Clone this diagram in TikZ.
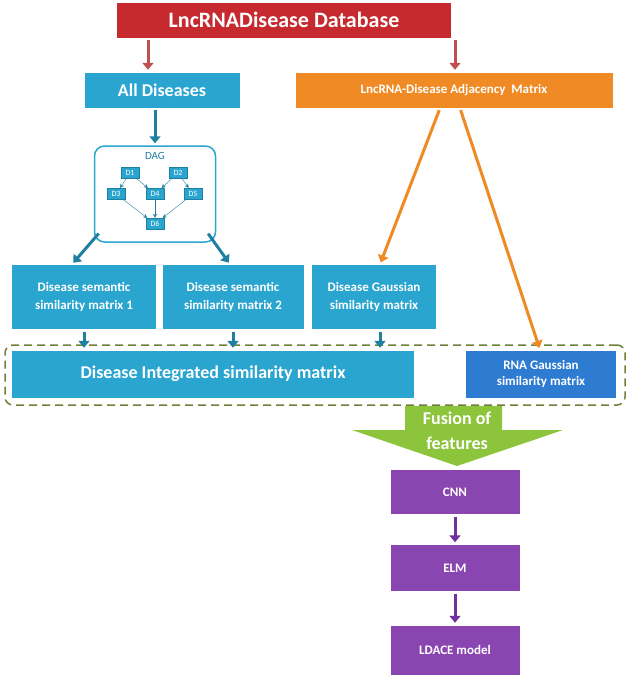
\documentclass[tikz,border=0pt]{standalone}
\usepackage{fontspec}
\setmainfont{Carlito}
\usetikzlibrary{arrows.meta,positioning}
\definecolor{titlered}{HTML}{C62A2F}
\definecolor{boxcyan}{HTML}{2AA5CF}
\definecolor{boxorange}{HTML}{F08A24}
\definecolor{boxblue}{HTML}{2E7BD2}
\definecolor{boxpurple}{HTML}{8A46B0}
\definecolor{fusegreen}{HTML}{8CC43C}
\definecolor{dashgreen}{HTML}{6E7F3A}
\definecolor{arrred}{HTML}{C0504D}
\definecolor{arrcyan}{HTML}{1E7FA0}
\definecolor{arrpurple}{HTML}{7030A0}
\begin{document}
\begin{tikzpicture}[x=1pt, y=-1pt, align=center, text=white, font=\fontsize{13}{16}\selectfont\bfseries]
    \tikzset{
        box/.style      =   { rectangle
                            , inner sep=2pt
                            , draw=white
                            , minimum height=36pt
        }
        , big/.style    =   { font=\fontsize{18}{21}\selectfont\bfseries
        }
        , dnode/.style  =   { rectangle
                            , fill=boxcyan
                            , draw=arrcyan
                            , font=\fontsize{8}{9}\selectfont
                            , inner sep=0pt
                            , minimum width=18pt
                            , minimum height=11pt
        }
        , arrow/.style  =   { line width=3pt
                            , -{Triangle[length=7pt,width=11pt]}
                            , shorten >= 2pt
                            , shorten <= 2pt
        }
        , dlink/.style  =   { draw=arrcyan
                            , -{Stealth[length=4pt,width=4pt]}
                            , shorten >= 0.5pt
        }
    }
    \useasboundingbox (0,0) rectangle (629,681);

    % top rows
    \node(db)[box, fill=titlered, minimum width=335pt, font=\fontsize{22}{24}\selectfont\bfseries] at (284,20) {LncRNADisease Database};
    \node(all)[box, fill=boxcyan, minimum width=156pt, big] at (162,90) {All Diseases};
    \node(adj)[box, fill=boxorange, minimum width=318pt] at (454,90) {LncRNA-Disease Adjacency~ Matrix};

    % DAG
    \node(dag)[draw=boxcyan, line width=1.5pt, rounded corners=10pt, minimum width=121pt, minimum height=96pt] at (155,194) {};
    \node[text=arrcyan, font=\fontsize{11}{12}\selectfont] at (155,156) {DAG};
    \node(d1)[dnode] at (130,173) {D1};
    \node(d2)[dnode] at (178,173) {D2};
    \node(d3)[dnode] at (116,194) {D3};
    \node(d4)[dnode] at (155,194) {D4};
    \node(d5)[dnode] at (193,194) {D5};
    \node(d6)[dnode] at (155,224) {D6};
    \draw[dlink] (d1) -- (d3);
    \draw[dlink] (d1) -- (d4);
    \draw[dlink] (d2) -- (d4);
    \draw[dlink] (d2) -- (d5);
    \draw[dlink] (d3) -- (d6);
    \draw[dlink] (d4) -- (d6);
    \draw[dlink] (d5) -- (d6);

    % similarity matrices
    \node(ss1)[box, fill=boxcyan, minimum width=145pt, minimum height=65pt] at (84,297) {Disease semantic\\[2pt]similarity matrix 1};
    \node(ss2)[box, fill=boxcyan, minimum width=142pt, minimum height=65pt] at (233,297) {Disease semantic\\[2pt]similarity matrix 2};
    \node(dgs)[box, fill=boxcyan, minimum width=125pt, minimum height=65pt] at (374,297) {Disease Gaussian\\[2pt]similarity matrix};
    \node(int)[box, fill=boxcyan, minimum width=403pt, minimum height=48pt, big] at (213,374) {Disease Integrated similarity matrix};
    \node(rna)[box, fill=boxblue, minimum width=151pt, minimum height=48pt] at (541,374) {RNA Gaussian\\similarity matrix};
    \node(grp)[draw=dashgreen, line width=1.5pt, dash pattern=on 8pt off 5pt, rounded corners=8pt, minimum width=620pt, minimum height=60pt] at (315,375) {};

    % fusion and classifiers
    \fill[fusegreen] (405,406) -- (502,406) -- (502,430) -- (563,430) -- (457,466)
        -- (352,430) -- (405,430) -- cycle;
    \node(fuse)[big] at (457,418) {Fusion of};
    \node[big] at (457,443) {features};
    \node(cnn)[box, fill=boxpurple, minimum width=130pt, minimum height=45pt] at (455,492) {CNN};
    \node(elm)[box, fill=boxpurple, minimum width=130pt, minimum height=47pt] at (455,568) {ELM};
    \node(ldace)[box, fill=boxpurple, minimum width=130pt, minimum height=50pt] at (455,650) {LDACE model};

    % connectors
    \coordinate(dl) at (100,232);
    \coordinate(dr) at (207,232);
    \draw[arrow, arrred] (db.south -| 148,0) -- (all.north -| 148,0);
    \draw[arrow, arrred] (db.south -| 455,0) -- (adj.north -| 455,0);
    \draw[arrow, arrcyan] (all.south -| dag.north) -- (dag.north);
    \draw[arrow, arrcyan] (dl) -- (ss1.north -| 72,0);
    \draw[arrow, arrcyan] (dr) -- (ss2.north -| 230,0);
    \draw[arrow, boxorange] (adj.south -| 440,0) -- (dgs.north -| 380,0);
    \draw[arrow, boxorange] (adj.south -| 460,0) -- (rna.north -| 540,0);
    \draw[arrow, arrcyan] (ss1.south) -- (int.north -| ss1.south);
    \draw[arrow, arrcyan] (ss2.south) -- (int.north -| ss2.south);
    \draw[arrow, arrcyan] (dgs.south -| 380,0) -- (int.north -| 380,0);
    \draw[arrow, arrpurple] (cnn) -- (elm);
    \draw[arrow, arrpurple] (elm) -- (ldace);
\end{tikzpicture}
\end{document}
